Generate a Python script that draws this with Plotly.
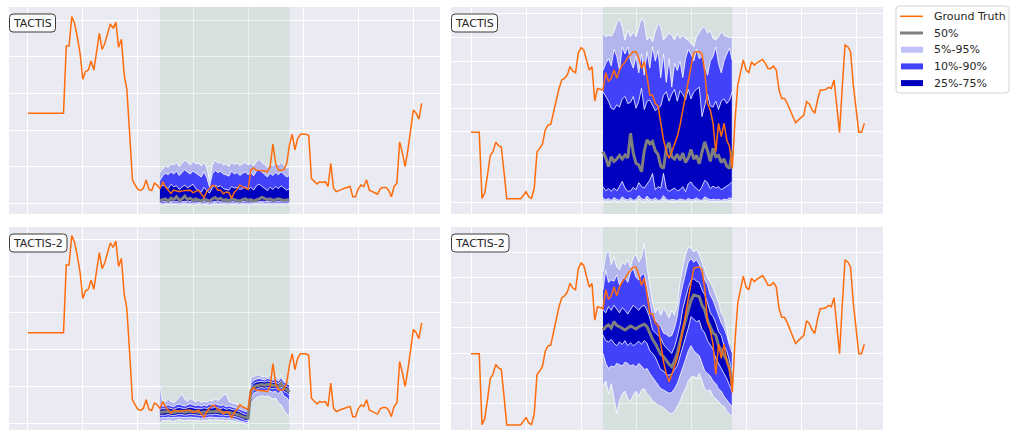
import plotly.graph_objects as go

W, H = 1011, 430

# time index of the series and of the forecast window
steps = list(range(144))
window = list(range(48, 96))
tick_steps = [0, 20, 40, 60, 80, 100, 120, 140]

# ---- ground truth series ----
gt_left = [2.46] * 14 + [
    4.3, 4.3, 5.1, 4.92, 4.55, 4.1, 3.39, 3.6, 3.64, 3.89, 3.64, 4.1, 4.64, 4.2, 4.37, 4.64,
    4.9, 4.78, 4.95, 4.26, 4.48, 3.53, 3.1, 1.91, 0.64, 0.5, 0.38, 0.35, 0.41, 0.64, 0.38, 0.35,
    0.55, 0.5, 0.4, 0.59, 0.45, 0.36, 0.27, 0.36, 0.33, 0.32, 0.34, 0.34, 0.36, 0.36, 0.29, 0.33,
    0.36, 0.25, 0.16, 0.32, 0.41, 0.49, 0.47, 0.36, 0.36, 0.26, 0.31, 0.3, 0.14, 0.3, 0.38, 0.5,
    0.45, 0.42, 0.38, 0.91, 0.97, 0.9, 0.9, 0.88, 0.88, 0.86, 1.0, 1.62, 1.09, 0.91, 0.9, 0.92,
    1.09, 1.59, 1.89, 1.46, 1.77, 1.89, 1.89, 1.89, 1.85, 0.68, 0.6, 0.53, 0.59, 0.57, 0.59, 0.46,
    1.09, 0.41, 0.32, 0.36, 0.38, 0.41, 0.43, 0.46, 0.18, 0.18, 0.4, 0.5, 0.46, 0.64, 0.36, 0.32,
    0.29, 0.25, 0.4, 0.43, 0.43, 0.36, 0.18, 0.46, 0.55, 1.68, 1.37, 1.0, 1.46, 2.0, 2.55, 2.46,
    2.3, 2.73]

gt_right = [
    2.98, 2.98, 2.98, 2.98, 0.18, 0.42, 1.17, 2.0, 2.16, 2.56, 2.42, 2.37, 1.31, 0.17, 0.17, 0.17,
    0.17, 0.17, 0.17, 0.3, 0.47, 0.25, 0.18, 0.61, 2.16, 2.3, 2.49, 3.08, 3.29, 3.32, 3.86, 4.35,
    4.84, 5.2, 5.27, 5.41, 5.76, 5.58, 5.51, 6.33, 6.57, 6.47, 6.0, 5.62, 5.76, 4.31, 4.84, 4.8,
    4.77, 5.51, 5.13, 5.27, 5.62, 5.27, 5.62, 5.83, 5.95, 6.15, 6.3, 6.4, 6.4, 6.12, 5.69, 5.97,
    5.34, 4.56, 4.56, 4.2, 4.1, 3.29, 2.66, 2.2, 1.88, 2.16, 2.51, 2.8, 3.29, 3.93, 4.63, 5.13,
    5.76, 6.36, 6.4, 6.4, 6.3, 5.55, 4.21, 3.93, 3.36, 2.16, 3.36, 2.8, 3.36, 2.66, 2.37, 1.45,
    3.5, 4.99, 5.55, 6.05, 5.62, 5.51, 5.97, 5.83, 5.93, 6.0, 6.07, 5.9, 5.69, 5.69, 5.79, 5.62,
    4.77, 4.42, 4.42, 4.2, 3.93, 3.64, 3.39, 3.5, 3.62, 3.71, 4.28, 4.18, 3.93, 3.79, 4.35, 4.77,
    4.77, 4.8, 4.89, 4.84, 5.2, 3.93, 2.98, 4.92, 6.68, 6.61, 6.4, 4.99, 4.07, 2.98, 2.98, 3.36]

# ---- TACTIS, left series: quantiles over the window ----
tl_q05 = [-0.04, -0.05, -0.03, -0.04, -0.02, -0.04, -0.03, -0.05, -0.04, -0.02, -0.04, -0.03,
          -0.05, -0.04, -0.03, -0.05, -0.04, -0.03, -0.06, -0.04, -0.02, -0.04, -0.03, -0.05,
          -0.04, -0.05, -0.03, -0.04, -0.04, -0.05, -0.03, -0.04, -0.05, -0.04, -0.05, -0.04,
          -0.03, -0.02, -0.03, -0.04, -0.03, -0.05, -0.04, -0.03, -0.04, -0.05, -0.04, -0.04]
tl_q10 = [0.0, -0.01, 0.01, 0.0, 0.02, 0.0, 0.01, -0.01, 0.0, 0.02, 0.0, 0.01, -0.01, 0.0, 0.01,
          -0.01, 0.0, 0.01, -0.02, 0.0, 0.02, 0.0, 0.01, -0.01, 0.0, -0.01, 0.01, 0.0, 0.0, -0.01,
          0.01, 0.0, -0.01, 0.0, -0.01, 0.0, 0.01, 0.02, 0.01, 0.0, 0.01, -0.01, 0.0, 0.01, 0.0,
          -0.01, 0.0, 0.0]
tl_q25 = [0.03, 0.04, 0.05, 0.02, 0.06, 0.04, 0.05, 0.03, 0.04, 0.06, 0.04, 0.05, 0.03, 0.04,
          0.04, 0.02, 0.05, 0.03, 0.02, 0.04, 0.06, 0.04, 0.05, 0.03, 0.04, 0.02, 0.05, 0.04,
          0.03, 0.02, 0.04, 0.05, 0.03, 0.04, 0.02, 0.03, 0.05, 0.06, 0.05, 0.04, 0.05, 0.03,
          0.04, 0.05, 0.04, 0.03, 0.04, 0.04]
tl_q50 = [0.08, 0.1, 0.12, 0.06, 0.14, 0.1, 0.18, 0.08, 0.12, 0.2, 0.1, 0.14, 0.08, 0.12, 0.1,
          0.06, 0.12, 0.08, 0.06, 0.12, 0.16, 0.1, 0.14, 0.08, 0.1, 0.06, 0.12, 0.1, 0.08, 0.06,
          0.1, 0.12, 0.08, 0.1, 0.06, 0.08, 0.12, 0.16, 0.14, 0.1, 0.12, 0.08, 0.1, 0.12, 0.1,
          0.08, 0.09, 0.1]
tl_q75 = [0.42, 0.5, 0.46, 0.4, 0.52, 0.45, 0.48, 0.38, 0.44, 0.5, 0.42, 0.46, 0.52, 0.4, 0.36,
          0.3, 0.44, 0.34, 0.28, 0.42, 0.5, 0.45, 0.48, 0.4, 0.38, 0.36, 0.46, 0.42, 0.44, 0.38,
          0.4, 0.46, 0.38, 0.44, 0.36, 0.48, 0.52, 0.46, 0.4, 0.35, 0.44, 0.38, 0.46, 0.4, 0.48,
          0.42, 0.36, 0.4]
tl_q90 = [0.62, 0.75, 0.82, 0.78, 0.86, 0.8, 0.88, 0.76, 0.84, 0.92, 0.85, 0.8, 0.88, 0.82, 0.78,
          0.72, 0.86, 0.7, 0.45, 0.8, 0.9, 0.84, 0.87, 0.8, 0.78, 0.74, 0.88, 0.8, 0.84, 0.76,
          0.82, 0.86, 0.78, 0.84, 0.75, 0.88, 0.92, 0.85, 0.8, 0.72, 0.82, 0.76, 0.84, 0.78, 0.86,
          0.8, 0.72, 0.76]
tl_q95 = [0.85, 0.95, 1.02, 0.98, 1.08, 1.05, 1.12, 1.0, 1.1, 1.18, 1.12, 1.05, 1.15, 1.08, 1.1,
          1.02, 1.12, 0.98, 0.62, 1.05, 1.18, 1.1, 1.12, 1.05, 1.08, 1.0, 1.12, 1.06, 1.1, 1.03,
          1.08, 1.12, 1.05, 1.1, 1.02, 1.14, 1.2, 1.12, 1.05, 0.98, 1.08, 1.02, 1.1, 1.05, 1.12,
          1.04, 0.96, 1.0]

# ---- TACTIS, right series ----
tr_q05 = [0.1, 0.05, 0.08, 0.04, 0.12, 0.06, 0.04, 0.14, 0.07, 0.05, 0.1, 0.04, 0.06, 0.16, 0.08,
          0.05, 0.15, 0.07, 0.05, 0.1, 0.04, 0.05, 0.16, 0.07, 0.04, 0.06, 0.05, 0.04, 0.08, 0.05,
          0.04, 0.09, 0.05, 0.06, 0.1, 0.05, 0.04, 0.12, 0.08, 0.05, 0.07, 0.05, 0.06, 0.04, 0.07,
          0.05, 0.1, 0.08]
tr_q10 = [0.2, 0.12, 0.18, 0.1, 0.22, 0.14, 0.1, 0.25, 0.15, 0.12, 0.2, 0.1, 0.14, 0.3, 0.18,
          0.12, 0.28, 0.15, 0.12, 0.2, 0.1, 0.12, 0.3, 0.15, 0.1, 0.14, 0.12, 0.1, 0.16, 0.12, 0.1,
          0.18, 0.12, 0.14, 0.2, 0.12, 0.1, 0.25, 0.18, 0.12, 0.15, 0.12, 0.14, 0.1, 0.15, 0.12,
          0.2, 0.18]
tr_q25 = [0.68, 0.5, 0.6, 0.48, 0.62, 0.5, 0.7, 0.9, 0.62, 0.48, 0.5, 0.65, 0.55, 0.85, 0.68,
          0.62, 0.8, 0.95, 1.24, 0.55, 0.68, 0.62, 1.24, 0.6, 0.48, 0.55, 0.62, 0.5, 0.55, 0.68,
          0.47, 0.8, 0.88, 0.7, 0.6, 0.5, 0.68, 0.95, 0.85, 0.6, 0.7, 0.62, 0.68, 0.55, 0.6, 0.7,
          0.78, 0.9]
tr_q50 = [2.16, 1.9, 1.53, 1.95, 1.75, 1.85, 2.0, 1.85, 2.02, 1.9, 2.94, 2.1, 1.67, 1.6, 1.31,
          2.2, 2.66, 2.5, 2.6, 2.2, 2.05, 1.55, 1.45, 2.3, 2.55, 1.95, 1.85, 2.05, 1.8, 2.1, 1.7,
          1.9, 2.25, 1.85, 2.0, 1.65, 2.15, 2.58, 2.2, 1.75, 2.3, 1.95, 2.0, 1.7, 1.85, 1.55, 1.45,
          2.2]
tr_q75 = [4.7, 4.5, 4.3, 4.0, 3.95, 4.15, 4.05, 4.4, 4.5, 4.2, 4.25, 4.5, 4.0, 4.3, 4.85, 3.95,
          4.3, 4.35, 4.1, 3.9, 4.0, 4.1, 4.55, 4.7, 4.3, 4.6, 4.8, 4.3, 4.75, 4.6, 4.35, 4.8, 4.4,
          4.7, 4.8, 4.9, 3.65, 4.2, 4.6, 4.1, 4.05, 4.3, 3.95, 4.3, 4.4, 4.2, 4.35, 4.7]
tr_q90 = [5.6, 5.9, 6.1, 5.8, 6.5, 6.2, 5.6, 6.6, 6.3, 6.6, 6.0, 5.7, 6.2, 5.5, 6.3, 5.4, 6.4,
          5.7, 6.6, 6.0, 6.45, 5.3, 6.3, 5.1, 6.1, 4.9, 5.9, 5.6, 6.0, 5.3, 6.1, 6.5, 6.3, 6.0,
          6.5, 6.1, 6.2, 5.8, 5.4, 6.0, 6.2, 6.6, 5.9, 5.5, 6.0, 6.3, 6.55, 6.0]
tr_q95 = [7.18, 7.03, 7.1, 7.05, 7.25, 7.6, 7.81, 7.46, 6.89, 7.32, 7.03, 7.25, 7.03, 7.4, 7.85,
          7.62, 6.89, 7.03, 6.82, 7.25, 7.6, 7.46, 6.89, 7.03, 7.18, 7.1, 6.89, 7.18, 6.96, 7.1,
          6.96, 6.89, 6.75, 6.61, 7.03, 7.2, 7.4, 7.46, 7.18, 7.32, 6.96, 6.89, 7.03, 7.25, 7.1,
          7.03, 7.0, 7.03]

# ---- TACTIS-2, left series ----
bl_q05 = [0.0, 0.08, 0.06, 0.09, 0.07, 0.05, 0.08, 0.1, 0.08, 0.07, 0.09, 0.1, 0.08, 0.07, 0.08,
          0.06, 0.09, 0.07, 0.1, 0.08, 0.1, 0.09, 0.08, 0.09, 0.06, 0.08, 0.06, 0.05, 0.04, 0.02,
          0.0, -0.02, -0.03, 0.55, 0.62, 0.7, 0.72, 0.75, 0.72, 0.74, 0.7, 0.66, 0.68, 0.55, 0.5,
          0.35, 0.25, 0.18]
bl_q10 = [0.14, 0.16, 0.15, 0.17, 0.15, 0.14, 0.16, 0.17, 0.16, 0.15, 0.16, 0.17, 0.16, 0.15,
          0.15, 0.14, 0.16, 0.15, 0.17, 0.16, 0.17, 0.16, 0.15, 0.16, 0.14, 0.15, 0.13, 0.12, 0.1,
          0.07, 0.04, 0.03, 0.02, 0.68, 0.82, 0.86, 0.88, 0.9, 0.87, 0.9, 0.88, 0.85, 0.87, 0.8,
          0.9, 0.74, 0.7, 0.6]
bl_q25 = [0.22, 0.23, 0.22, 0.24, 0.22, 0.21, 0.23, 0.25, 0.24, 0.22, 0.23, 0.25, 0.24, 0.23,
          0.22, 0.21, 0.23, 0.22, 0.24, 0.23, 0.25, 0.24, 0.22, 0.23, 0.21, 0.22, 0.2, 0.19, 0.17,
          0.14, 0.1, 0.08, 0.07, 0.78, 0.9, 0.94, 0.96, 0.97, 0.95, 0.98, 0.97, 0.94, 0.96, 0.9,
          1.0, 0.86, 0.84, 0.76]
bl_q50 = [0.3, 0.31, 0.3, 0.32, 0.3, 0.29, 0.31, 0.33, 0.32, 0.3, 0.31, 0.33, 0.32, 0.31, 0.3,
          0.29, 0.31, 0.3, 0.32, 0.31, 0.33, 0.32, 0.3, 0.31, 0.29, 0.3, 0.28, 0.27, 0.25, 0.22,
          0.18, 0.16, 0.14, 0.88, 0.98, 1.02, 1.04, 1.05, 1.03, 1.06, 1.05, 1.02, 1.04, 0.98, 1.08,
          0.95, 0.92, 0.85]
bl_q75 = [0.38, 0.4, 0.39, 0.42, 0.4, 0.38, 0.41, 0.43, 0.41, 0.4, 0.42, 0.44, 0.42, 0.4, 0.41,
          0.39, 0.42, 0.4, 0.43, 0.41, 0.44, 0.42, 0.4, 0.42, 0.38, 0.4, 0.37, 0.36, 0.34, 0.3,
          0.27, 0.24, 0.22, 0.98, 1.08, 1.12, 1.13, 1.14, 1.12, 1.15, 1.13, 1.1, 1.12, 1.07, 1.16,
          1.04, 1.0, 0.95]
bl_q90 = [0.5, 0.46, 0.48, 0.5, 0.47, 0.45, 0.5, 0.52, 0.49, 0.47, 0.5, 0.53, 0.5, 0.48, 0.5,
          0.46, 0.5, 0.47, 0.52, 0.5, 0.53, 0.5, 0.48, 0.5, 0.45, 0.47, 0.45, 0.44, 0.42, 0.38,
          0.35, 0.32, 0.3, 1.08, 1.16, 1.2, 1.22, 1.2, 1.18, 1.22, 1.2, 1.17, 1.2, 1.14, 1.24,
          1.12, 1.08, 1.04]
bl_q95 = [1.05, 0.62, 0.58, 0.66, 0.6, 0.56, 0.62, 0.72, 0.8, 0.65, 0.6, 0.68, 0.62, 0.58, 0.64,
          0.56, 0.6, 0.58, 0.63, 0.6, 0.66, 0.62, 0.68, 0.76, 0.8, 0.6, 0.56, 0.55, 0.52, 0.5,
          0.46, 0.42, 0.4, 1.24, 1.28, 1.3, 1.32, 1.26, 1.28, 1.25, 1.3, 1.22, 1.28, 1.2, 1.3,
          1.16, 1.14, 1.1]

# ---- TACTIS-2, right series ----
br_q05 = [1.68, 1.9, 1.4, 1.8, 1.2, 0.63, 1.1, 1.4, 1.5, 1.2, 1.1, 1.35, 1.5, 1.3, 1.55, 1.6,
          1.4, 1.3, 1.1, 1.05, 0.95, 0.9, 0.85, 0.75, 0.65, 0.6, 0.7, 0.9, 1.1, 1.4, 1.6, 1.9,
          2.05, 2.1, 2.0, 2.2, 1.9, 1.6, 1.5, 1.55, 1.3, 1.2, 1.1, 0.95, 0.9, 0.7, 0.6, 0.5]
br_q10 = [3.0, 2.6, 2.4, 2.5, 2.45, 2.6, 2.55, 2.5, 2.65, 2.6, 2.5, 2.55, 2.45, 2.6, 2.5, 2.35,
          2.4, 2.2, 2.05, 1.9, 1.75, 1.6, 1.55, 1.5, 1.42, 1.45, 1.6, 1.8, 2.15, 2.45, 2.75, 3.1,
          3.3, 3.1, 3.0, 2.9, 2.6, 2.3, 2.2, 2.1, 1.9, 1.8, 1.6, 1.5, 1.3, 1.15, 1.0, 0.89]
br_q25 = [3.72, 3.5, 3.45, 3.55, 3.4, 3.3, 3.45, 3.35, 3.5, 3.3, 3.42, 3.3, 3.38, 3.48, 3.35,
          3.5, 3.4, 3.1, 3.0, 2.85, 2.6, 2.35, 2.3, 2.15, 2.14, 2.18, 2.35, 2.5, 2.9, 3.2, 3.65,
          4.0, 4.45, 4.35, 4.25, 4.3, 3.95, 3.8, 3.5, 3.3, 3.15, 2.8, 2.6, 2.4, 2.2, 2.0, 1.75,
          1.48]
br_q50 = [3.92, 4.05, 4.12, 4.0, 4.25, 4.1, 4.05, 3.98, 3.92, 4.0, 4.08, 4.02, 3.96, 4.05, 4.1,
          4.15, 4.05, 3.79, 3.55, 3.39, 3.15, 2.95, 2.87, 2.7, 2.57, 2.47, 2.7, 3.0, 3.5, 3.92,
          4.3, 4.71, 5.1, 5.3, 5.28, 5.24, 4.9, 4.71, 4.3, 4.05, 3.8, 3.72, 3.3, 3.13, 2.9, 2.73,
          2.4, 1.81]
br_q75 = [4.71, 4.6, 4.85, 4.7, 4.9, 4.75, 4.6, 4.8, 4.7, 4.55, 4.75, 4.9, 4.8, 4.7, 4.85, 4.9,
          4.7, 4.4, 3.92, 3.8, 3.7, 3.6, 3.35, 3.2, 3.1, 3.0, 3.25, 3.65, 4.1, 4.75, 5.2, 5.6, 5.9,
          5.95, 5.85, 5.8, 5.5, 5.3, 5.0, 4.6, 4.45, 4.2, 3.85, 3.7, 3.3, 3.1, 2.7, 2.2]
br_q90 = [5.5, 6.29, 5.8, 5.9, 5.85, 6.1, 5.7, 5.95, 6.0, 5.8, 6.2, 6.35, 6.0, 5.9, 6.1, 6.15,
          5.6, 5.0, 4.5, 4.3, 4.2, 4.05, 3.8, 3.75, 3.66, 3.7, 4.0, 4.45, 5.2, 5.7, 6.2, 6.6, 6.75,
          6.6, 6.7, 6.5, 6.2, 5.9, 5.7, 5.3, 5.1, 4.8, 4.5, 4.2, 4.0, 3.7, 3.3, 3.0]
br_q95 = [6.2, 6.9, 7.1, 6.5, 6.8, 6.4, 6.3, 6.6, 6.5, 6.7, 6.4, 6.8, 6.9, 6.6, 6.8, 7.35, 6.4,
          5.6, 5.0, 4.6, 4.8, 4.5, 4.8, 4.6, 4.4, 4.7, 4.5, 4.9, 5.8, 6.4, 6.9, 7.2, 7.15, 7.0,
          7.1, 6.9, 6.6, 6.3, 6.0, 5.8, 5.6, 5.3, 5.0, 4.6, 4.4, 3.9, 3.4, 3.3]

band_names = ["5%-95%", "10%-90%", "25%-75%"]
band_colors = ["#b3b6ec", "#4242fb", "#0000bf"]
legend_band_colors = ["#c0c0f8", "#4242fb", "#0000bf"]
orange = "#ff6c0c"
grey = "#7f7f7f"
text_col = "#262626"
span_fill = "rgba(44,150,60,0.1)"

panels = [
    dict(title="TACTIS", gt=gt_left, q=(tl_q05, tl_q10, tl_q25, tl_q50, tl_q75, tl_q90, tl_q95),
         xd=(9, 440), yd=(7, 214), yr=[-0.292, 5.363], yt=[0, 1, 2, 3, 4, 5], xr=[-6.79, 149.65]),
    dict(title="TACTIS", gt=gt_right, q=(tr_q05, tr_q10, tr_q25, tr_q50, tr_q75, tr_q90, tr_q95),
         xd=(451, 883), yd=(7, 214), yr=[-0.479, 8.292], yt=list(range(9)), xr=[-7.27, 149.8]),
    dict(title="TACTIS-2", gt=gt_left, q=(bl_q05, bl_q10, bl_q25, bl_q50, bl_q75, bl_q90, bl_q95),
         xd=(9, 440), yd=(227, 430), yr=[-0.182, 5.334], yt=[0, 1, 2, 3, 4, 5], xr=[-6.79, 149.65]),
    dict(title="TACTIS-2", gt=gt_right, q=(br_q05, br_q10, br_q25, br_q50, br_q75, br_q90, br_q95),
         xd=(451, 883), yd=(227, 430), yr=[-0.032, 7.992], yt=list(range(9)), xr=[-7.27, 149.8]),
]


def px(x):
    return x / W


def py(y):
    return 1 - y / H


def rounded_box(x0, y0, x1, y1, r=3.5):
    """Rounded rectangle path in paper units from pixel corners (y down)."""
    rx, ry = r / W, r / H
    a, b, c, d = px(x0), py(y1), px(x1), py(y0)
    return (f"M {a + rx},{b} L {c - rx},{b} Q {c},{b} {c},{b + ry} "
            f"L {c},{d - ry} Q {c},{d} {c - rx},{d} L {a + rx},{d} "
            f"Q {a},{d} {a},{d - ry} L {a},{b + ry} Q {a},{b} {a + rx},{b} Z")


fig = go.Figure()
shapes, annotations = [], []
layout_axes = {}

for k, p in enumerate(panels):
    n = k + 1
    xa = "x" if n == 1 else f"x{n}"
    ya = "y" if n == 1 else f"y{n}"
    q05, q10, q25, q50, q75, q90, q95 = p["q"]
    lo_y, hi_y = p["yr"]

    # forecast window span (drawn as the first trace so the grid shows faintly through it)
    w0, w1 = window[0], window[-1]
    fig.add_trace(go.Scatter(
        x=[w0, w1, w1, w0, w0], y=[lo_y, lo_y, hi_y, hi_y, lo_y], fill="toself",
        fillcolor=span_fill, mode="lines", line=dict(width=0), showlegend=False,
        hoverinfo="skip", xaxis=xa, yaxis=ya))

    for (lo, hi), name, col in zip([(q05, q95), (q10, q90), (q25, q75)], band_names, band_colors):
        fig.add_trace(go.Scatter(
            x=window + window[::-1], y=list(hi) + list(lo)[::-1],
            fill="toself", fillcolor=col, mode="lines",
            line=dict(color="white", width=0.8),
            name=name, showlegend=False, xaxis=xa, yaxis=ya, hoverinfo="skip"))
    fig.add_trace(go.Scatter(
        x=window, y=q50, mode="lines", line=dict(color=grey, width=3),
        name="50%", showlegend=False, xaxis=xa, yaxis=ya))
    fig.add_trace(go.Scatter(
        x=steps, y=p["gt"], mode="lines", line=dict(color=orange, width=1.5),
        name="Ground Truth", showlegend=False, xaxis=xa, yaxis=ya))

    sfx = "" if n == 1 else str(n)
    layout_axes[f"xaxis{sfx}"] = dict(
        domain=[px(p["xd"][0]), px(p["xd"][1])], range=p["xr"], anchor=ya,
        tickvals=tick_steps, showticklabels=False, ticks="", showline=False,
        zeroline=False, showgrid=True, gridcolor="white", gridwidth=1.3)
    layout_axes[f"yaxis{sfx}"] = dict(
        domain=[py(p["yd"][1]), py(p["yd"][0])], range=p["yr"], anchor=xa,
        tickvals=p["yt"], showticklabels=False, ticks="", showline=False,
        zeroline=False, showgrid=True, gridcolor="white", gridwidth=1.3)

    # title badge
    bx0 = p["xd"][0] + 0.5
    by0 = p["yd"][0] + 7
    bw = 46 if p["title"] == "TACTIS" else 57.5
    shapes.append(dict(type="path", xref="paper", yref="paper",
                       path=rounded_box(bx0, by0, bx0 + bw, by0 + 18),
                       fillcolor="rgba(255,255,255,0.85)", line=dict(color="#3a3a3a", width=1),
                       layer="above"))
    annotations.append(dict(text=p["title"], xref="paper", yref="paper",
                            x=px(bx0 + bw / 2), y=py(by0 + 9.5), xanchor="center",
                            yanchor="middle", showarrow=False,
                            font=dict(family="DejaVu Sans", size=11, color=text_col)))

# legend panel on the right
shapes.append(dict(type="path", xref="paper", yref="paper", path=rounded_box(896, 6, 1009, 93),
                   fillcolor="white", line=dict(color="#d0d0d0", width=1), layer="above"))
legend_rows = [
    ("Ground Truth", "line", orange, 1.5),
    ("50%", "line", grey, 3),
    ("5%-95%", "patch", legend_band_colors[0], 0),
    ("10%-90%", "patch", legend_band_colors[1], 0),
    ("25%-75%", "patch", legend_band_colors[2], 0),
]
for r, (label, kind, col, lw) in enumerate(legend_rows):
    yc = 16.3 + r * 16.7
    if kind == "line":
        shapes.append(dict(type="line", xref="paper", yref="paper", x0=px(900), x1=px(923),
                           y0=py(yc), y1=py(yc), line=dict(color=col, width=lw), layer="above"))
    else:
        shapes.append(dict(type="rect", xref="paper", yref="paper", x0=px(901), x1=px(923),
                           y0=py(yc + 3), y1=py(yc - 3), fillcolor=col, line=dict(width=0),
                           layer="above"))
    annotations.append(dict(text=label, xref="paper", yref="paper", x=px(932), y=py(yc),
                            xanchor="left", yanchor="middle", showarrow=False,
                            font=dict(family="DejaVu Sans", size=11, color=text_col)))

fig.update_layout(
    width=W, height=H, margin=dict(l=0, r=0, t=0, b=0),
    plot_bgcolor="#eaeaf2", paper_bgcolor="white",
    font=dict(family="DejaVu Sans", color=text_col),
    shapes=shapes, annotations=annotations,
    showlegend=False,
    **layout_axes,
)

fig.write_html("out.html")
